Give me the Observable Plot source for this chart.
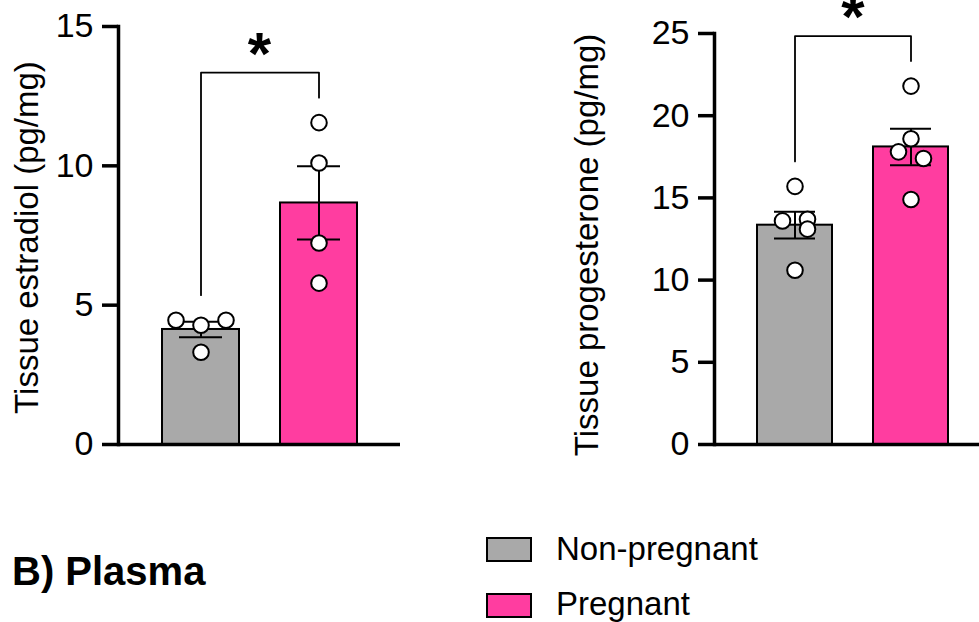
<!DOCTYPE html>
<html>
<head>
<meta charset="utf-8">
<script src="https://cdn.jsdelivr.net/npm/d3@7"></script>
<script src="https://cdn.jsdelivr.net/npm/@observablehq/plot@0.6"></script>
<style>
  body { margin: 0; background: #fff; }
  #root { position: relative; width: 979px; height: 622px; overflow: hidden; background: #fff;
          font-family: "Liberation Sans", Arial, Helvetica, sans-serif; color: #000; }
  .panel { position: absolute; top: 0; }
  .swatch { position: absolute; width: 42px; height: 21px; border: 2px solid #000; }
  .ltext { position: absolute; font-size: 33px; line-height: 33px; white-space: nowrap; }
  .section { position: absolute; font-size: 40px; line-height: 40px; font-weight: bold; white-space: nowrap; }
</style>
</head>
<body>
<div id="root"></div>
<script>
// ---- data ----
const groups = ["Non-pregnant", "Pregnant"];
const groupColors = ["#a9a9a9", "#ff3da0"];

const estradiolNonPregnant = [4.28, 4.46, 4.46, 3.31];
const estradiolNonPregnantSide = [0, -1, 1, 0];
const estradiolPregnant = [11.55, 10.1, 7.23, 5.79];
const estradiolPregnantSide = [0, 0, 0, 0];
const estradiolTicks = [0, 5, 10, 15];

const progesteroneNonPregnant = [15.7, 13.6, 13.7, 13.1, 10.6];
const progesteroneNonPregnantSide = [0, -1, 1, 1, 0];
const progesteronePregnant = [21.8, 18.6, 17.8, 17.4, 14.9];
const progesteronePregnantSide = [0, 0, -1, 1, 0];
const progesteroneTicks = [0, 5, 10, 15, 20, 25];

const significance = "*";
const sectionTitle = "B) Plasma";

// ---- chart builder ----
function panel({values, sides, ticks, label, width, marginLeft, marginTop, swarmStep, labelDx, labelDy}) {
  const height = 470, marginBottom = 26;
  const domainMax = d3.max(ticks);
  const pxPerUnit = (height - marginBottom - marginTop) / domainMax;
  const points = [];
  groups.forEach((g, gi) => values[gi].forEach((v, i) => points.push({group: g, value: v, side: sides[gi][i]})));
  const stats = groups.map((g, gi) => {
    const vs = values[gi];
    const mean = d3.mean(vs);
    const sem = d3.deviation(vs) / Math.sqrt(vs.length);
    return {group: g, mean, lo: mean - sem, hi: mean + sem, max: d3.max(vs)};
  });
  const legGap = 25 / pxPerUnit, topGap = 50 / pxPerUnit;
  const overallMax = d3.max(stats, d => d.max);
  const topY = overallMax + topGap;
  const bracket = [
    {group: groups[0], value: stats[0].max + legGap},
    {group: groups[0], value: topY},
    {group: groups[1], value: topY},
    {group: groups[1], value: stats[1].max + legGap}
  ];
  const ink = "#000";
  return Plot.plot({
    width, height, marginLeft, marginRight: 0, marginTop, marginBottom,
    style: {fontFamily: '"Liberation Sans", Arial, Helvetica, sans-serif', background: "transparent", overflow: "visible", maxWidth: "none", color: ink},
    x: {domain: groups, paddingInner: 0.35, paddingOuter: 0.36, axis: null},
    y: {domain: [0, domainMax], axis: null},
    color: {domain: groups, range: groupColors},
    marks: [
      Plot.barY(stats, {x: "group", y: "mean", fill: "group", stroke: ink, strokeWidth: 2}),
      Plot.ruleX(stats, {x: "group", y1: "lo", y2: "hi", stroke: ink, strokeWidth: 2}),
      Plot.tickY(stats, {x: "group", y: "hi", stroke: ink, strokeWidth: 2, inset: 17}),
      Plot.tickY(stats, {x: "group", y: "lo", stroke: ink, strokeWidth: 2, inset: 17}),
      ...[-1, 0, 1].map(s => Plot.dot(points.filter(d => d.side === s), {
        x: "group", y: "value", dx: s * swarmStep, r: 7.8, fill: "#fff", stroke: ink, strokeWidth: 2
      })),
      Plot.line(bracket, {x: "group", y: "value", stroke: ink, strokeWidth: 1.8}),
      Plot.text([topY], {y: d => d, text: () => significance, frameAnchor: "middle", lineAnchor: "middle",
        dy: -18, fontSize: 60, fontWeight: "bold", fill: ink}),
      Plot.axisY({ticks, tickSize: 16, tickPadding: 9, fontSize: 34, strokeWidth: 3.5, label: null, stroke: ink, fill: ink}),
      Plot.ruleY([0], {stroke: ink, strokeWidth: 3.5}),
      Plot.frame({anchor: "left", stroke: ink, strokeWidth: 3.5}),
      Plot.text([label], {frameAnchor: "left", rotate: -90, textAnchor: "middle", lineAnchor: "top",
        dx: labelDx, dy: labelDy, fontSize: 33, fill: ink})
    ]
  });
}

const root = document.getElementById("root");

const left = panel({
  values: [estradiolNonPregnant, estradiolPregnant],
  sides: [estradiolNonPregnantSide, estradiolPregnantSide],
  ticks: estradiolTicks, label: "Tissue estradiol (pg/mg)",
  width: 400, marginLeft: 118, marginTop: 26, swarmStep: 25, labelDx: -104, labelDy: 2
});
const leftDiv = document.createElement("div");
leftDiv.className = "panel"; leftDiv.style.left = "0px"; leftDiv.style.width = "400px";
leftDiv.appendChild(left); root.appendChild(leftDiv);

const right = panel({
  values: [progesteroneNonPregnant, progesteronePregnant],
  sides: [progesteroneNonPregnantSide, progesteronePregnantSide],
  ticks: progesteroneTicks, label: "Tissue progesterone (pg/mg)",
  width: 431, marginLeft: 154, marginTop: 33, swarmStep: 12.5, labelDx: -140, labelDy: 6
});
const rightDiv = document.createElement("div");
rightDiv.className = "panel"; rightDiv.style.left = "560px"; rightDiv.style.width = "431px";
rightDiv.appendChild(right); root.appendChild(rightDiv);

// ---- section title and legend ----
const title = document.createElement("div");
title.className = "section"; title.textContent = sectionTitle;
title.style.left = "12px"; title.style.top = "551px";
root.appendChild(title);

groups.forEach((g, i) => {
  const sw = document.createElement("div");
  sw.className = "swatch"; sw.style.background = groupColors[i];
  sw.style.left = "486px"; sw.style.top = (537 + i * 56) + "px";
  root.appendChild(sw);
  const t = document.createElement("div");
  t.className = "ltext"; t.textContent = g;
  t.style.left = "556px"; t.style.top = (532 + i * 55) + "px";
  root.appendChild(t);
});
</script>
</body>
</html>
